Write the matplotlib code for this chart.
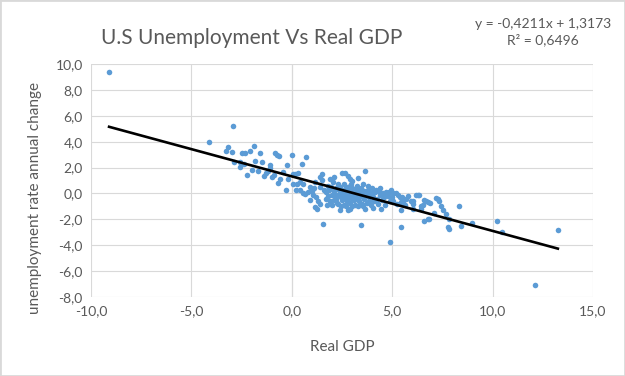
import matplotlib
matplotlib.use("Agg")
import matplotlib.pyplot as plt
from matplotlib.patches import Rectangle
from matplotlib.ticker import FuncFormatter

# values (real GDP growth vs unemployment change)
# recessions / weak years, left of the cluster
left_gdp = [-9.1, -4.1, -2.95, -3.3, -3.2, -3.0, -2.5, -2.35, -2.1, -1.9, -1.6,
            -2.9, -2.6, -2.6, -2.4, -2.25, -2.0, -1.85, -1.7, -1.5, -1.3, -1.2,
            -1.4, -1.1, -1.1, -1.0, -0.9, -0.85, -0.75, -0.65, -0.7, -0.6, -0.45,
            -0.3, -0.25, -0.2, 0.0, 0.05, 0.05, 0.15, 0.25, 0.3, 0.5, 0.7]
left_unemp = [9.4, 4.0, 5.2, 3.3, 3.6, 3.2, 3.15, 3.1, 3.3, 3.65, 3.1,
              2.4, 2.45, 2.05, 2.3, 1.4, 1.8, 2.5, 1.75, 2.4, 1.6, 1.75,
              1.35, 2.2, 2.0, 1.25, 1.4, 3.1, 3.0, 2.9, 0.8, 1.15, 1.65,
              0.25, 2.2, 1.15, 3.0, 1.5, 0.75, 1.5, 0.75, 1.55, 2.3, 2.8]

# low growth
low_gdp = [0.2, 0.4, 0.4, 0.55, 0.55, 0.65, 0.8, 0.9, 0.9, 1.0, 1.05, 1.1,
           1.15, 1.15, 1.2, 1.25, 1.3, 1.4, 1.4, 1.4, 1.5, 1.5, 1.55, 1.6,
           1.7, 1.7, 1.75, 1.8, 1.8, 1.85]
low_unemp = [0.3, 0.25, 0.9, 0.75, 0.0, -0.05, 0.1, 0.5, -0.5, 0.2, -0.1, 0.45,
             0.9, -1.05, -0.3, -1.2, -0.55, 0.5, 1.25, -0.8, 1.5, 1.05, -2.35, 0.3,
             0.1, -0.4, -0.9, 0.6, -0.2, 0.25]

# the dense middle
mid_gdp = [1.9, 1.9, 1.95, 2.0, 2.0, 2.05, 2.1, 2.1, 2.1, 2.15, 2.2, 2.2,
           2.25, 2.3, 2.3, 2.3, 2.35, 2.4, 2.4, 2.4, 2.45, 2.45, 2.5, 2.5,
           2.5, 2.55, 2.6, 2.6, 2.6, 2.65, 2.65, 2.7, 2.7, 2.7, 2.75, 2.75,
           2.8, 2.8, 2.8, 2.85, 2.85, 2.9, 2.9, 2.9, 2.9, 2.95, 2.95, 3.0,
           3.0, 3.0, 3.0, 3.05, 3.1, 3.1, 3.15, 3.15, 3.2, 3.2, 3.25, 3.25,
           3.3, 3.3, 3.3, 3.35, 3.35, 3.4, 3.45, 3.45, 3.45, 3.5, 3.55, 3.55,
           3.55, 3.55, 3.6, 3.6, 3.65, 3.65, 3.65, 3.7, 3.75, 3.75, 3.8, 3.8,
           3.85, 3.85, 3.9, 3.95, 3.95, 4.0, 4.05, 4.05, 4.05, 4.1, 4.15, 4.2,
           4.25, 4.3, 4.35, 4.4, 4.4, 4.45, 4.5, 4.55, 4.6, 4.65, 4.7, 4.8,
           4.85, 4.9, 4.9, 4.95]
mid_unemp = [-0.6, 1.1, 0.5, -0.9, -0.1, 0.85, 0.2, -0.5, 1.3, -0.15, -0.4, 0.4,
             -0.7, -0.1, -0.8, 0.7, 0.25, 0.5, 0.0, -1.3, -0.25, -1.0, -0.5, 0.3,
             1.6, 0.05, -0.2, -0.9, 0.75, -0.45, 1.6, 0.1, 0.5, -1.0, -0.6, 0.3,
             -0.3, -1.25, 1.35, 0.2, -0.05, -0.7, 0.6, 1.15, -1.2, -0.35, 0.75, -0.1,
             0.4, 1.0, -0.95, 0.2, -0.5, 0.1, -0.9, -0.15, -0.3, 0.35, 0.6, -0.4,
             0.0, -1.0, 1.2, -0.6, 0.15, 0.3, -0.2, 0.45, -2.45, -0.8, 0.75, 0.1,
             -0.25, -1.0, -0.4, 0.2, -0.05, 1.7, -1.2, -0.1, -0.7, 0.15, 0.3, 0.6,
             -0.3, -0.55, 0.0, -0.9, -0.15, 0.4, -0.3, 0.05, -1.1, -0.6, 0.1, 0.25,
             -0.4, -0.8, 0.2, -0.15, 0.45, -1.2, -0.5, 0.0, -0.3, -0.9, 0.1, -0.2,
             0.15, -0.6, -3.75, 0.3]

# strong growth years
high_gdp = [5.0, 5.05, 5.05, 5.2, 5.25, 5.3, 5.4, 5.45, 5.45, 5.45, 5.5, 5.55,
            5.65, 5.7, 5.8, 5.95, 6.05, 6.05, 6.05, 6.2, 6.3, 6.35, 6.45, 6.45,
            6.55, 6.6, 6.6, 6.7, 6.8, 6.8, 6.85, 6.9, 7.1, 7.2, 7.3, 7.35,
            7.45, 7.55, 7.7, 7.8, 7.85, 7.85, 8.35, 8.45, 8.95, 10.2, 10.45, 12.1,
            13.25]
high_unemp = [-0.3, 0.0, -0.55, 0.0, -0.8, -0.1, -0.3, -0.65, -1.25, -2.6, -0.3, -0.55,
              -0.9, -0.4, -0.2, -0.55, -0.8, -0.55, -1.2, -0.15, -0.1, -0.1, -0.95, -1.2,
              -0.9, -0.5, -2.1, -0.55, -0.65, -2.0, -1.95, -0.7, -1.5, -0.35, -0.4, -0.6,
              -0.95, -1.3, -1.6, -2.6, -1.95, -2.75, -1.0, -2.55, -2.3, -2.1, -2.95, -7.1,
              -2.8]

# linear trendline as printed on the chart
slope = -0.4211
intercept = 1.3173
r_squared = 0.6496

x_ticks = [-10, -5, 0, 5, 10, 15]
y_ticks = [-8, -6, -4, -2, 0, 2, 4, 6, 8, 10]

gdp = left_gdp + low_gdp + mid_gdp + high_gdp
unemp = left_unemp + low_unemp + mid_unemp + high_unemp

plt.rcParams['font.family'] = ['Lato', 'DejaVu Sans']
text_color = "#595959"
grid_color = "#D9D9D9"


def comma(v, pos=None):
    # excel style decimal comma
    return f"{v:.1f}".replace(".", ",")


fig = plt.figure(figsize=(6.25, 3.76), dpi=100)
ax = fig.add_axes([91 / 625, 1 - 297 / 376, 502 / 625, 233 / 376])

ax.scatter(gdp, unemp, s=16, color="#5B9BD5", linewidths=0, zorder=3)

x_line = [min(gdp), max(gdp)]
ax.plot(x_line, [slope * x + intercept for x in x_line], color="black", lw=1.9, zorder=4)

ax.set_xlim(x_ticks[0], x_ticks[-1])
ax.set_ylim(y_ticks[0], y_ticks[-1])
ax.set_xticks(x_ticks)
ax.set_yticks(y_ticks)
ax.xaxis.set_major_formatter(FuncFormatter(comma))
ax.yaxis.set_major_formatter(FuncFormatter(comma))
ax.tick_params(length=0, labelsize=10, labelcolor=text_color, pad=6)
ax.grid(True, color=grid_color, lw=0.8, zorder=0)
ax.axvline(0, color="#BFBFBF", lw=0.8, zorder=1)
for s in ax.spines.values():
    s.set_visible(False)

fig.text(252 / 625, 1 - 38 / 376, "U.S Unemployment Vs Real GDP", ha="center", va="center",
         fontsize=15, color=text_color)
eq = f"y = {slope:.4f}x + {intercept:.4f}".replace(".", ",")
r2 = f"R² = {r_squared:.4f}".replace(".", ",")
fig.text(543 / 625, 1 - 32 / 376, eq + "\n" + r2,
         ha="center", va="center", fontsize=10, color=text_color, linespacing=1.35)
fig.text(342 / 625, 1 - 347 / 376, "Real GDP", ha="center", va="center",
         fontsize=11, color=text_color)
fig.text(35 / 625, 1 - 198 / 376, "unemployment rate annual change", ha="center",
         va="center", rotation=90, fontsize=11, color=text_color)

# light frame around the whole chart
fig.patches.append(Rectangle((0, 0), 1, 1, transform=fig.transFigure, fill=False,
                             edgecolor=grid_color, lw=2))

fig.savefig("out.png", dpi=100)
